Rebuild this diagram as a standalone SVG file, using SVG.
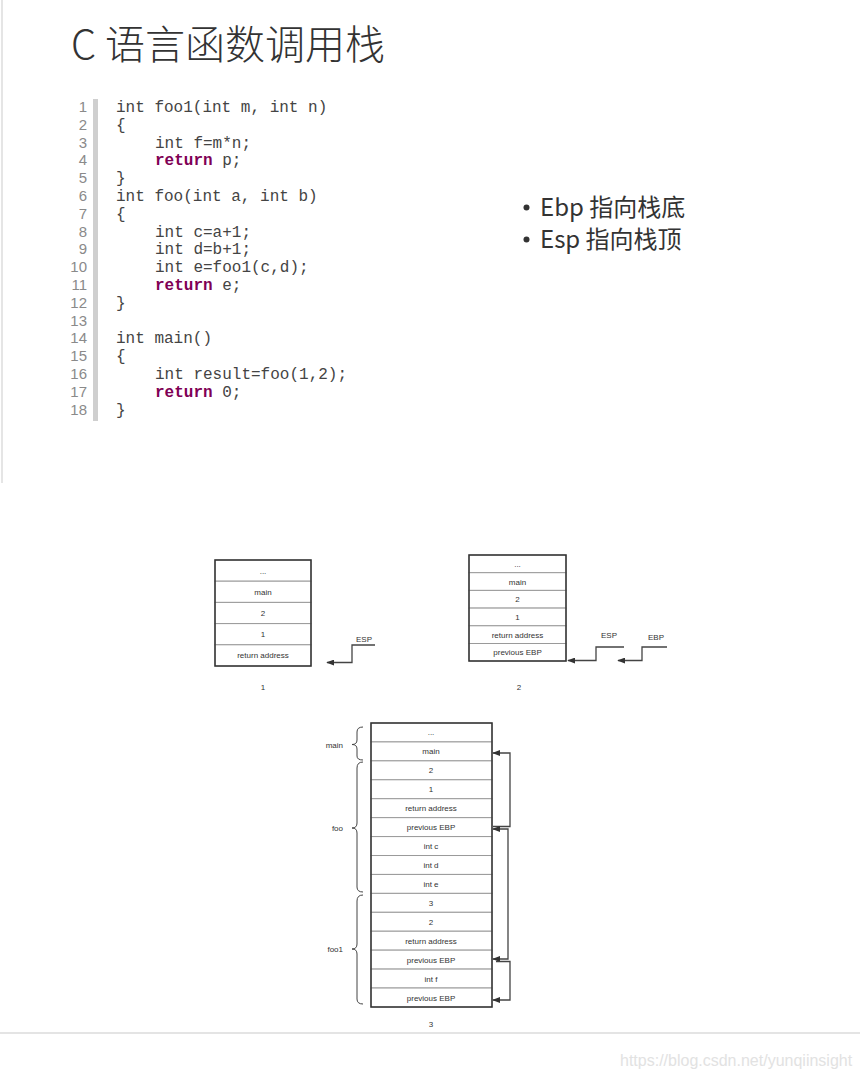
<svg xmlns="http://www.w3.org/2000/svg" width="860" height="1079" viewBox="0 0 860 1079">
<defs>
<style>
.title{font-family:"Noto Sans CJK SC","Noto Sans",sans-serif;font-weight:300;font-size:40px;fill:#333}
.bul{font-family:"Noto Sans CJK SC","Noto Sans",sans-serif;font-size:24px;fill:#333}
.ln{font-family:"Liberation Sans",Arial,sans-serif;font-size:15px;fill:#8a8a8a;text-anchor:end}
.code{font-family:"Liberation Mono","Courier New",monospace;font-size:16px;fill:#444;white-space:pre}
.kw{font-weight:bold;fill:#7f0055}
.cell{fill:#fff;stroke:#9a9a9a;stroke-width:1}
.frame{fill:none;stroke:#333;stroke-width:1.5}
.st{font-family:"Liberation Sans",Arial,sans-serif;font-size:8px;fill:#333;text-anchor:middle}
.lbl{font-family:"Liberation Sans",Arial,sans-serif;font-size:8px;fill:#333}
.conn{fill:none;stroke:#444;stroke-width:1.3}
.brace{fill:none;stroke:#444;stroke-width:1}
</style>
<marker id="ah" viewBox="0 0 10 10" refX="9" refY="5" markerWidth="8" markerHeight="6" markerUnits="userSpaceOnUse" orient="auto-start-reverse" preserveAspectRatio="none">
<path d="M0,0 L10,5 L0,10 z" fill="#333"/>
</marker>
</defs>
<rect width="860" height="1079" fill="#fff"/>
<line x1="2" y1="0" x2="2" y2="483" stroke="#dcdcdc" stroke-width="1.5"/>
<line x1="0" y1="1033" x2="860" y2="1033" stroke="#e4e4e4" stroke-width="2"/>

<g id="title"><text class="title" x="71" y="59">C 语言函数调用栈</text></g>

<g id="code">
<rect x="93" y="99" width="5" height="322" fill="#cfcfcf"/>
<g class="ln">
<text x="87" y="112">1</text><text x="87" y="129.8">2</text><text x="87" y="147.6">3</text><text x="87" y="165.4">4</text><text x="87" y="183.2">5</text><text x="87" y="201">6</text><text x="87" y="218.8">7</text><text x="87" y="236.6">8</text><text x="87" y="254.4">9</text><text x="87" y="272.2">10</text><text x="87" y="290">11</text><text x="87" y="307.8">12</text><text x="87" y="325.6">13</text><text x="87" y="343.4">14</text><text x="87" y="361.2">15</text><text x="87" y="379">16</text><text x="87" y="396.8">17</text><text x="87" y="414.6">18</text>
</g>
<text class="code" x="116" y="112">int foo1(int m, int n)</text>
<text class="code" x="116" y="129.8">{</text>
<text class="code" x="155" y="147.6">int f=m*n;</text>
<text class="code" x="155" y="165.4"><tspan class="kw">return</tspan> p;</text>
<text class="code" x="116" y="183.2">}</text>
<text class="code" x="116" y="201">int foo(int a, int b)</text>
<text class="code" x="116" y="218.8">{</text>
<text class="code" x="155" y="236.6">int c=a+1;</text>
<text class="code" x="155" y="254.4">int d=b+1;</text>
<text class="code" x="155" y="272.2">int e=foo1(c,d);</text>
<text class="code" x="155" y="290"><tspan class="kw">return</tspan> e;</text>
<text class="code" x="116" y="307.8">}</text>
<text class="code" x="116" y="343.4">int main()</text>
<text class="code" x="116" y="361.2">{</text>
<text class="code" x="155" y="379">int result=foo(1,2);</text>
<text class="code" x="155" y="396.8"><tspan class="kw">return</tspan> 0;</text>
<text class="code" x="116" y="414.6">}</text>
</g>

<g id="bullets">
<circle cx="526.5" cy="207.5" r="3" fill="#333"/>
<text class="bul" x="540" y="216">Ebp 指向栈底</text>
<circle cx="526.5" cy="239.5" r="3" fill="#333"/>
<text class="bul" x="540" y="248">Esp 指向栈顶</text>
</g>

<g id="stack1">
<rect class="cell" x="215" y="560" width="96" height="21.2"/>
<rect class="cell" x="215" y="581.2" width="96" height="21.2"/>
<rect class="cell" x="215" y="602.4" width="96" height="21.2"/>
<rect class="cell" x="215" y="623.6" width="96" height="21.2"/>
<rect class="cell" x="215" y="644.8" width="96" height="21.2"/>
<rect class="frame" x="215" y="560" width="96" height="106"/>
<text class="st" x="263" y="574">...</text>
<text class="st" x="263" y="594.5">main</text>
<text class="st" x="263" y="615.7">2</text>
<text class="st" x="263" y="636.9">1</text>
<text class="st" x="263" y="658.1">return address</text>
<text class="st" x="263" y="690">1</text>
<text class="lbl" x="356" y="642">ESP</text>
</g>

<g id="stack2">
<rect class="cell" x="469" y="555" width="97" height="17.7"/>
<rect class="cell" x="469" y="572.7" width="97" height="17.7"/>
<rect class="cell" x="469" y="590.4" width="97" height="17.7"/>
<rect class="cell" x="469" y="608.1" width="97" height="17.7"/>
<rect class="cell" x="469" y="625.8" width="97" height="17.7"/>
<rect class="cell" x="469" y="643.5" width="97" height="17.5"/>
<rect class="frame" x="469" y="555" width="97" height="106"/>
<text class="st" x="517.5" y="567">...</text>
<text class="st" x="517.5" y="584.5">main</text>
<text class="st" x="517.5" y="602.2">2</text>
<text class="st" x="517.5" y="619.9">1</text>
<text class="st" x="517.5" y="637.6">return address</text>
<text class="st" x="517.5" y="655.3">previous EBP</text>
<text class="st" x="519" y="690">2</text>
<text class="lbl" x="601" y="638">ESP</text>
<text class="lbl" x="648" y="640">EBP</text>
</g>

<g id="stack3">
<rect class="cell" x="371" y="723" width="121" height="18.93"/>
<rect class="cell" x="371" y="741.93" width="121" height="18.93"/>
<rect class="cell" x="371" y="760.86" width="121" height="18.93"/>
<rect class="cell" x="371" y="779.79" width="121" height="18.93"/>
<rect class="cell" x="371" y="798.72" width="121" height="18.93"/>
<rect class="cell" x="371" y="817.65" width="121" height="18.93"/>
<rect class="cell" x="371" y="836.58" width="121" height="18.93"/>
<rect class="cell" x="371" y="855.51" width="121" height="18.93"/>
<rect class="cell" x="371" y="874.44" width="121" height="18.93"/>
<rect class="cell" x="371" y="893.37" width="121" height="18.93"/>
<rect class="cell" x="371" y="912.3" width="121" height="18.93"/>
<rect class="cell" x="371" y="931.23" width="121" height="18.93"/>
<rect class="cell" x="371" y="950.16" width="121" height="18.93"/>
<rect class="cell" x="371" y="969.09" width="121" height="18.93"/>
<rect class="cell" x="371" y="988.02" width="121" height="18.98"/>
<rect class="frame" x="371" y="723" width="121" height="284"/>
<text class="st" x="431" y="735">...</text>
<text class="st" x="431" y="754.4">main</text>
<text class="st" x="431" y="773.3">2</text>
<text class="st" x="431" y="792.3">1</text>
<text class="st" x="431" y="811.2">return address</text>
<text class="st" x="431" y="830.1">previous EBP</text>
<text class="st" x="431" y="849.1">int c</text>
<text class="st" x="431" y="868">int d</text>
<text class="st" x="431" y="886.9">int e</text>
<text class="st" x="431" y="905.9">3</text>
<text class="st" x="431" y="924.8">2</text>
<text class="st" x="431" y="943.7">return address</text>
<text class="st" x="431" y="962.6">previous EBP</text>
<text class="st" x="431" y="981.6">int f</text>
<text class="st" x="431" y="1000.5">previous EBP</text>
<text class="st" x="431" y="1027">3</text>
</g>

<g id="braces">
<path class="brace" d="M363,727 Q357,727 357,732 L357,740 Q357,744.5 352,744.5 Q357,744.5 357,749 L357,756 Q357,760 363,760"/>
<text class="lbl" x="343" y="747.5" text-anchor="end">main</text>
<path class="brace" d="M363,762 Q357,762 357,768 L357,823 Q357,828 352,828 Q357,828 357,833 L357,887 Q357,892 363,892"/>
<text class="lbl" x="343" y="831" text-anchor="end">foo</text>
<path class="brace" d="M363,895 Q357,895 357,901 L357,944 Q357,949 352,949 Q357,949 357,954 L357,999 Q357,1004 363,1004"/>
<text class="lbl" x="343" y="952" text-anchor="end">foo1</text>
</g>

<g id="connectors">
<path class="conn" d="M375,645 L352,645 L352,662.5 L327,662.5" marker-end="url(#ah)"/>
<path class="conn" d="M624,647 L596,647 L596,660.5 L568,660.5" marker-end="url(#ah)"/>
<path class="conn" d="M667,647 L642,647 L642,660.5 L618,660.5" marker-end="url(#ah)"/>
<path class="conn" d="M493,826.5 L510,826.5 L510,753 L493,753" marker-end="url(#ah)"/>
<path class="conn" d="M493,959 L508,959 L508,829 L493,829" marker-start="url(#ah)" marker-end="url(#ah)"/>
<path class="conn" d="M496,961.5 L510,961.5 L510,1000 L493,1000" marker-end="url(#ah)"/>
</g>

<g id="watermark"><text x="620" y="1066" font-family="Liberation Sans,Arial,sans-serif" font-size="16" fill="#e2e2e2">https://blog.csdn.net/yunqiinsight</text></g>
</svg>
